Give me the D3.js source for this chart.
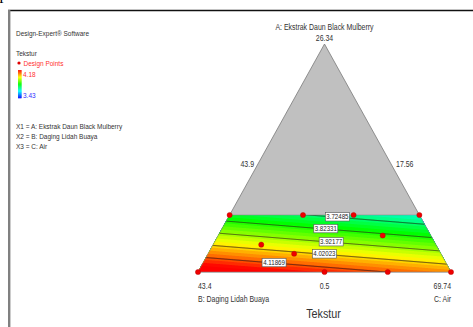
<!DOCTYPE html>
<html>
<head>
<meta charset="utf-8">
<script src="https://cdn.jsdelivr.net/npm/d3@7"></script>
<style>
  body { margin: 0; background: #fff; }
  text { font-family: "Liberation Sans", Arial, sans-serif; }
</style>
</head>
<body>
<div id="main"></div>
<script>
const ctx = {
    w: 473,
    h: 327,
    GREY_TRI: "#c0c0c0",
    TEXT: "#333333",
    NARROW: 0.83, // horizontal squeeze to mimic the narrow font of the original
};

// component / vertex labels (actual units as shown on the plot)
const COMPONENTS = ["A: Ekstrak Daun Black Mulberry", "B: Daging Lidah Buaya", "C: Air"];
const VERTEX_VALUES = ["26.34", "43.4", "69.74"];
const EDGE_VALUES = ["43.9", "17.56", "0.5"]; // left edge, right edge, bottom edge
const LEGEND_LINES = ["X1 = A: Ekstrak Daun Black Mulberry", "X2 = B: Daging Lidah Buaya", "X3 = C: Air"];

// response: Tekstur, colour range and fitted (linear mixture) model in pseudo components
const RESPONSE = "Tekstur";
const COLOR_RANGE = [3.43, 4.18];
const MODEL_COEFS = [2.393, 4.239, 4.082]; // A, B, C
const A_MAX = 0.25; // upper bound of A in pseudo units (top of the feasible region)

// contour levels and where (C share) each label sits on its line
const LEVELS = [3.72485, 3.82331, 3.92177, 4.02023, 4.11869];
const LABEL_AT_C = [0.43, 0.41, 0.46, 0.46, 0.28];

// design points (pseudo component fractions)
const DESIGN_A = [0, 0, 0, 0, 0.25, 0.25, 0.25, 0.25, 0.16, 0.12, 0.08];
const DESIGN_B = [1, 0, 0.5, 0.25, 0.75, 0, 0.46, 0.26, 0.19, 0.69, 0.58];
const DESIGN_C = [0, 1, 0.5, 0.75, 0, 0.75, 0.29, 0.49, 0.65, 0.19, 0.34];

const xScale = d3.scaleLinear().domain([0, 1]).range([198, 451]); // C share along the base
const yScale = d3.scaleLinear().domain([0, 1]).range([272, 44]);  // A share, base to apex

function project(a, c) {
    return [xScale(c + a / 2), yScale(a)];
}

function model(a, b, c) {
    return MODEL_COEFS[0] * a + MODEL_COEFS[1] * b + MODEL_COEFS[2] * c;
}

const color = d3.scaleLinear()
    .domain([0, 0.25, 0.5, 0.75, 1].map(t => COLOR_RANGE[0] + t * (COLOR_RANGE[1] - COLOR_RANGE[0])))
    .range(["#0000ff", "#00ffff", "#00ff00", "#ffff00", "#ff0000"])
    .clamp(true);

// narrow text helper
function addText(g, x, y, str, size, anchor, fill) {
    return g.append("text")
        .attr("transform", `translate(${x},${y}) scale(${ctx.NARROW},1)`)
        .attr("text-anchor", anchor || "start")
        .attr("fill", fill || ctx.TEXT)
        .style("font-size", size + "px")
        .text(str);
}

function createViz() {
    let svgEl = d3.select("#main").append("svg")
        .attr("width", ctx.w)
        .attr("height", ctx.h);

    // page frame (cut from a document)
    svgEl.append("text")
        .attr("x", -1).attr("y", 3)
        .style("font-family", "Liberation Serif, serif")
        .style("font-size", "14px")
        .text("I");
    svgEl.append("line")
        .attr("x1", 8).attr("y1", 10.5).attr("x2", ctx.w).attr("y2", 10.5)
        .attr("stroke", "#111").attr("stroke-width", 1.4);
    svgEl.append("line")
        .attr("x1", 9.2).attr("y1", 10).attr("x2", 9.2).attr("y2", ctx.h)
        .attr("stroke", "#808080").attr("stroke-width", 2.4);

    createLegend(svgEl);
    createTernary(svgEl);
}

function createLegend(svgEl) {
    let g = svgEl.append("g").attr("id", "legend");
    addText(g, 16, 36, "Design-Expert® Software", 7.8);
    addText(g, 16, 56, RESPONSE, 7.8);
    g.append("circle").attr("cx", 19).attr("cy", 63).attr("r", 1.6).attr("fill", "#e00000");
    addText(g, 23.5, 66, "Design Points", 7.8, "start", "#ff3030");

    // colour bar
    let barScale = d3.scaleLinear().domain(COLOR_RANGE).range([98, 70]);
    let steps = d3.range(COLOR_RANGE[0], COLOR_RANGE[1], 0.01);
    g.selectAll("rect.bar")
        .data(steps)
        .enter()
        .append("rect")
        .attr("class", "bar")
        .attr("x", 18).attr("width", 3.5)
        .attr("y", d => barScale(d + 0.01))
        .attr("height", d => barScale(d) - barScale(d + 0.01) + 0.3)
        .attr("fill", d => color(d));
    addText(g, 23, barScale(COLOR_RANGE[1]) + 7, COLOR_RANGE[1].toFixed(2), 7.8, "start", "#ff3030");
    addText(g, 23, barScale(COLOR_RANGE[0]) - 0.5, COLOR_RANGE[0].toFixed(2), 7.8, "start", "#3030ff");

    LEGEND_LINES.forEach(function (d, i) {
        addText(g, 16, 129 + i * 10, d, 7.8);
    });
}

function createTernary(svgEl) {
    let g = svgEl.append("g").attr("id", "ternary");
    let apex = project(1, 0), bl = project(0, 0), br = project(0, 1);

    // whole simplex in grey
    g.append("path")
        .attr("d", d3.line()([apex, bl, br]) + "Z")
        .attr("fill", ctx.GREY_TRI)
        .attr("stroke", "#7a7a7a")
        .attr("stroke-width", 0.8);

    // feasible region
    let region = [project(0, 0), project(0, 1), project(A_MAX, 1 - A_MAX), project(A_MAX, 0)];
    svgEl.append("defs").append("clipPath").attr("id", "regionClip")
        .append("path").attr("d", d3.line()(region) + "Z");

    // sample the model on a pixel grid a bit larger than the region
    let x0 = 188, y0 = yScale(A_MAX) - 10;
    let nx = 275, ny = Math.ceil(yScale(0) - y0) + 10;
    let values = new Array(nx * ny);
    for (let j = 0; j < ny; j++) {
        for (let i = 0; i < nx; i++) {
            let a = yScale.invert(y0 + j);
            let c = xScale.invert(x0 + i) - a / 2;
            values[j * nx + i] = model(a, 1 - a - c, c);
        }
    }
    let pathGen = d3.geoPath(d3.geoIdentity().translate([x0, y0]));
    let bandThresholds = d3.range(3.30, 4.40, 0.0246);
    let bands = d3.contours().size([nx, ny]).thresholds(bandThresholds)(values);

    let regionG = g.append("g").attr("clip-path", "url(#regionClip)");
    regionG.append("path")
        .attr("d", d3.line()(region) + "Z")
        .attr("fill", color(d3.min(values)));
    regionG.selectAll("path.band")
        .data(bands)
        .enter()
        .append("path")
        .attr("class", "band")
        .attr("d", pathGen)
        .attr("fill", d => color(d.value + 0.0123));

    // contour lines
    let lines = d3.contours().size([nx, ny]).thresholds(LEVELS)(values);
    regionG.selectAll("path.level")
        .data(lines)
        .enter()
        .append("path")
        .attr("class", "level")
        .attr("d", pathGen)
        .attr("fill", "none")
        .attr("stroke", "#1a1a1a")
        .attr("stroke-width", 0.7);

    // region outline
    g.append("path")
        .attr("d", d3.line()(region) + "Z")
        .attr("fill", "none")
        .attr("stroke", "#808080")
        .attr("stroke-width", 0.5);

    // contour labels
    LEVELS.forEach(function (lv, i) {
        let c = LABEL_AT_C[i];
        let a = (lv - MODEL_COEFS[1] * (1 - c) - MODEL_COEFS[2] * c) / (MODEL_COEFS[0] - MODEL_COEFS[1]);
        let p = project(a, c);
        let lg = g.append("g").attr("transform", `translate(${p[0]},${p[1]})`);
        lg.append("rect")
            .attr("x", -12).attr("y", -4.2)
            .attr("width", 24).attr("height", 8.4)
            .attr("fill", "#fff")
            .attr("stroke", "#555")
            .attr("stroke-width", 0.6);
        addText(lg, 0, 2.6, lv.toFixed(5), 7.4, "middle", "#222");
    });

    // design points
    g.selectAll("circle.dp")
        .data(DESIGN_A.map((a, i) => [a, DESIGN_B[i], DESIGN_C[i]]))
        .enter()
        .append("circle")
        .attr("class", "dp")
        .attr("cx", d => project(d[0], d[2])[0])
        .attr("cy", d => project(d[0], d[2])[1])
        .attr("r", 2.6)
        .attr("fill", "#ee0000")
        .attr("stroke", "#b00000")
        .attr("stroke-width", 0.4);

    // vertex and edge labels
    let fs = 8.4;
    addText(g, apex[0], 30, COMPONENTS[0], fs, "middle");
    addText(g, apex[0], 40.5, VERTEX_VALUES[0], fs, "middle");

    let midLeft = project(0.5, 0), midRight = project(0.5, 0.5), midBase = project(0, 0.5);
    addText(g, midLeft[0] - 14, 167, EDGE_VALUES[0], fs, "middle");
    addText(g, midRight[0] + 17, 167, EDGE_VALUES[1], fs, "middle");

    addText(g, bl[0], 289, VERTEX_VALUES[1], fs);
    addText(g, midBase[0], 289, EDGE_VALUES[2], fs, "middle");
    addText(g, br[0], 289, VERTEX_VALUES[2], fs, "end");
    addText(g, bl[0], 302, COMPONENTS[1], fs);
    addText(g, br[0], 302, COMPONENTS[2], fs, "end");

    // title
    addText(g, midBase[0] - 1, 318, RESPONSE, 13, "middle");
}

createViz();
</script>
</body>
</html>
